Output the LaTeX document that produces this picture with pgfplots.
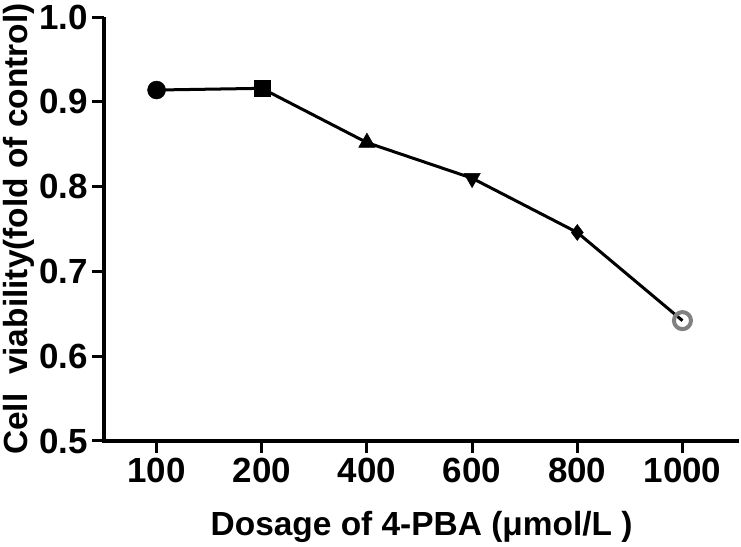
\documentclass[border=0pt]{standalone}
\usepackage{fontspec}
\setmainfont{Liberation Sans}
\usepackage{pgfplots}
\pgfplotsset{compat=1.18}
\begin{document}
\begin{tikzpicture}[x=1bp,y=1bp]
\begin{axis}[
    at={(106bp,0bp)}, anchor=south west,
    width=634bp, height=423bp, scale only axis,
    xmin=-0.5, xmax=5.54, ymin=0.5, ymax=1.0,
    axis x line*=bottom, axis y line*=left,
    axis line style={line width=3.5bp, shorten <=-1.75bp},
    xtick={0,1,2,3,4,5}, xticklabels={100,200,400,600,800,1000},
    ytick={0.5,0.6,...,1.0},
    tick align=outside, major tick length=11.5bp,
    tick style={line width=3bp, black},
    /pgf/number format/assume math mode=true,
    /pgf/number format/fixed, /pgf/number format/fixed zerofill,
    /pgf/number format/precision=1,
    tick label style={font=\fontsize{35}{38}\selectfont\bfseries},
    xticklabel style={yshift=-2bp},
    yticklabel style={xshift=-1bp},
    xlabel={Dosage of 4-PBA (μmol/L )},
    ylabel={Cell\ \ viability(fold of control)},
    label style={font=\fontsize{33.5}{36}\selectfont\bfseries},
    xlabel style={yshift=-22bp},
    ylabel style={yshift=-2bp},
    clip=false,
]
\addplot[black, line width=3bp, no markers] coordinates {
    (0,0.914)(1,0.916)(2,0.852)(3,0.810)(4,0.746)(5,0.642)};
\addplot[only marks, mark=*, mark size=9bp, black] coordinates {(0,0.914)};
\addplot[only marks, mark=square*, mark size=8bp, black] coordinates {(1,0.916)};
\addplot[only marks, mark=triangle*, mark size=9.5bp, black] coordinates {(2,0.852)};
\addplot[only marks, mark=triangle*, mark size=9.5bp, black, mark options={rotate=180}] coordinates {(3,0.810)};
\addplot[only marks, mark=diamond*, mark size=8bp, black] coordinates {(4,0.746)};
\addplot[only marks, mark=o, mark size=8.5bp, mark options={draw=black!50, line width=4bp, fill=white}] coordinates {(5,0.642)};
\end{axis}
\end{tikzpicture}
\end{document}
